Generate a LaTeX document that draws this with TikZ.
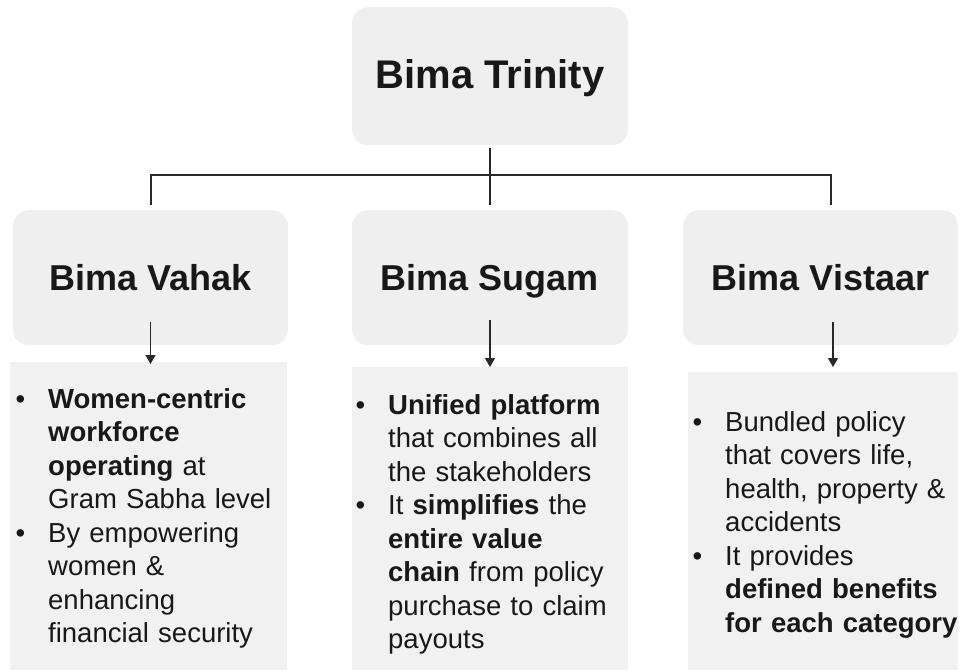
\documentclass[tikz,border=0pt]{standalone}
\usepackage{fontspec}
\setmainfont{Liberation Sans}
\usetikzlibrary{arrows.meta,calc}
\definecolor{boxgray}{RGB}{239,239,239}
\definecolor{descgray}{RGB}{241,241,241}
\definecolor{ink}{RGB}{24,24,24}
\definecolor{linecol}{RGB}{40,40,40}
\newcommand{\bulletmark}{\leavevmode\llap{\textbullet\hspace{23pt}}}
\begin{document}
\begin{tikzpicture}[x=1pt,y=-1pt,
  headbox/.style={fill=boxgray, rounded corners=16pt, inner sep=0pt, text=ink, anchor=north,
    font=\bfseries\fontsize{36}{43}\selectfont},
  descbox/.style={fill=descgray, inner sep=0pt, anchor=north west},
  desctext/.style={anchor=base west, inner sep=0pt, text=ink, align=left, text width=270pt,
    font=\fontsize{27.5}{33.5}\selectfont},
  tree/.style={draw=linecol, line width=2pt},
  arr/.style={draw=linecol, line width=1.2pt, -{Triangle[width=10pt,length=9pt]}}]
\useasboundingbox[fill=white] (0,0) rectangle (960,670);

% head boxes
\node[headbox, minimum width=276pt, text height=81pt, text depth=57pt,
  font=\bfseries\fontsize{40}{48}\selectfont] (top) at (490,7) {Bima Trinity};
\node[headbox, minimum width=275pt, text height=80pt, text depth=55pt] (vahak) at (150.5,210) {Bima Vahak};
\node[headbox, minimum width=276pt, text height=80pt, text depth=55pt] (sugam) at (490,210) {Bima Sugam};
\node[headbox, minimum width=275pt, text height=80pt, text depth=55pt] (vistaar) at (820.5,210) {Bima Vistaar};

% description boxes
\node[descbox, minimum width=277pt, minimum height=308pt] (vdbox) at (10,362) {};
\node[descbox, minimum width=276pt, minimum height=303pt] (sdbox) at (352,367) {};
\node[descbox, minimum width=270pt, minimum height=298pt] (rdbox) at (688,372) {};

% tree connectors
\coordinate (j) at (490,175);
\draw[tree, shorten <=3pt, shorten >=5pt] (top.south) -- (sugam.north);
\draw[tree, shorten >=5pt] (j) -| (vahak.north);
\draw[tree, shorten >=5pt] (j) -| ([xshift=10pt]vistaar.north);

% arrows
\draw[arr] ([yshift=23pt]vahak.south) -- ([yshift=-2pt]vahak.south |- vdbox.north);
\draw[arr] ([yshift=25pt]sugam.south) -- ([yshift=0pt]sugam.south |- sdbox.north);
\draw[arr] ([xshift=12.5pt,yshift=23pt]vistaar.south) -- ([xshift=12.5pt,yshift=5pt]vistaar.south |- rdbox.north);

% description texts
\node[desctext] (vdtext) at (48,408) {\bulletmark\textbf{Women-centric}\\
\textbf{workforce}\\
\textbf{operating} at\\
Gram Sabha level\\
\bulletmark By empowering\\
women \&\\
enhancing\\
financial security};

\node[desctext] (sdtext) at (388,414) {\bulletmark\textbf{Unified platform}\\
that combines all\\
the stakeholders\\
\bulletmark It \textbf{simplifies} the\\
\textbf{entire value}\\
\textbf{chain} from policy\\
purchase to claim\\
payouts};

\node[desctext] (rdtext) at (725,431) {\bulletmark Bundled policy\\
that covers life,\\
health, property \&\\
accidents\\
\bulletmark It provides\\
\textbf{defined benefits}\\
\textbf{for each category}};
\end{tikzpicture}
\end{document}
